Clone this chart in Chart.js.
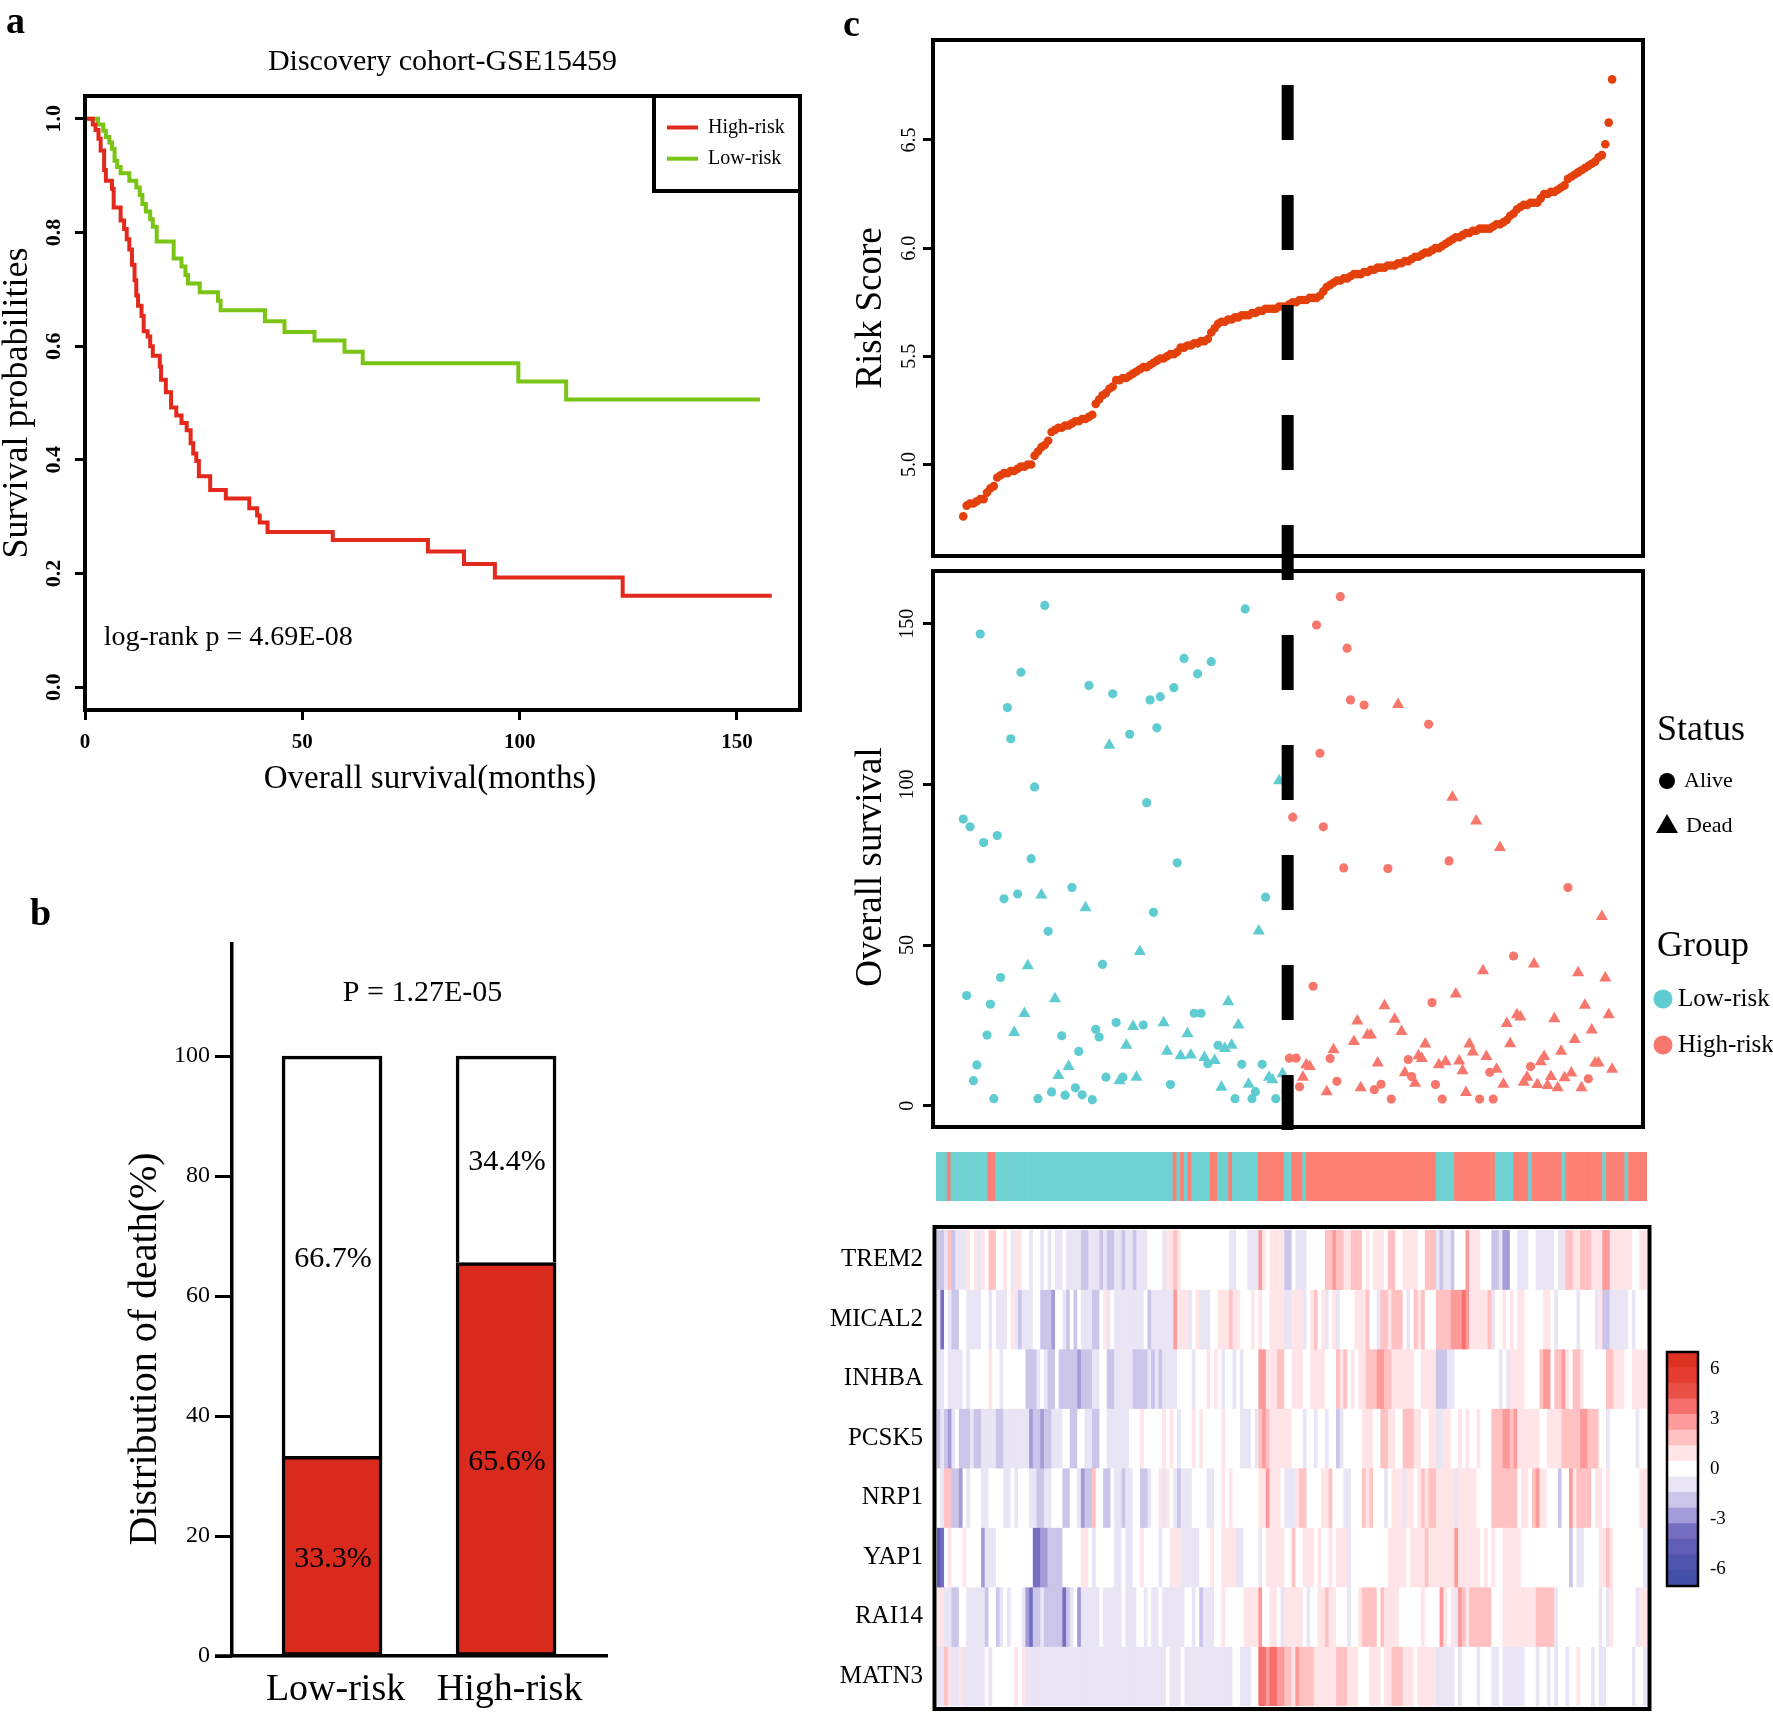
<!DOCTYPE html>
<html>
<head>
<meta charset="utf-8">
<title>Risk model figure</title>
<script src="https://cdn.jsdelivr.net/npm/chart.js@4.4.1/dist/chart.umd.min.js"></script>
<style>
  html, body { margin: 0; padding: 0; background: #fff; }
  #page { position: relative; width: 1773px; height: 1716px; overflow: hidden; background: #fff; }
  #page canvas { position: absolute; left: 0; top: 0; }
</style>
</head>
<body>
<div id="page"></div>
<script>
const W = 1773, H = 1716;
const SERIF = "'Liberation Serif', 'Times New Roman', serif";

/* ---- panel a : Kaplan-Meier ---- */
const kmTitle = 'Discovery cohort-GSE15459';
const kmXTitle = 'Overall survival(months)';
const kmYTitle = 'Survival probabilities';
const kmNames = ['High-risk', 'Low-risk'];
const kmColors = ['#E3291B', '#79C415'];
const logRankText = 'log-rank p = 4.69E-08';
const highTime = [0, 1.8, 2.4, 3.1, 3.6, 4.4, 4.8, 6.2, 6.6, 8.2, 9.0, 9.6, 10.2, 10.8, 11.4, 11.8, 12.2, 13.0, 13.5, 14.4,
  15.0, 15.6, 17.2, 17.5, 18.6, 19.8, 21.0, 22.2, 23.4, 24.3, 24.9, 25.6, 26.2, 28.8, 32.4, 37.8, 39.6, 40.2, 42.0, 57.0,
  78.9, 87.2, 94.3, 123.7, 158.0];
const highSurv = [1.0, 0.99, 0.98, 0.965, 0.944, 0.91, 0.891, 0.877, 0.844, 0.821, 0.806, 0.788, 0.77, 0.743, 0.716, 0.689, 0.671, 0.653, 0.626, 0.617,
  0.6, 0.583, 0.564, 0.541, 0.519, 0.492, 0.478, 0.465, 0.452, 0.429, 0.411, 0.398, 0.371, 0.347, 0.332, 0.315, 0.302, 0.29, 0.273, 0.259,
  0.239, 0.217, 0.193, 0.161, 0.161];
const lowTime = [0, 3.0, 4.2, 4.8, 5.6, 6.2, 6.8, 7.4, 8.2, 10.2, 11.8, 12.6, 13.2, 14.0, 15.0, 15.6, 16.5, 20.4, 22.2, 23.1,
  23.7, 26.4, 30.6, 31.2, 41.4, 45.9, 52.8, 59.7, 63.9, 99.7, 110.7, 155.3];
const lowSurv = [1.0, 0.99, 0.979, 0.968, 0.958, 0.947, 0.926, 0.915, 0.904, 0.891, 0.879, 0.866, 0.85, 0.837, 0.823, 0.81, 0.784, 0.754, 0.74, 0.725,
  0.71, 0.695, 0.68, 0.663, 0.644, 0.625, 0.61, 0.59, 0.57, 0.538, 0.506, 0.506];

/* ---- panel b : death distribution ---- */
const barGroups = ['Low-risk', 'High-risk'];
const deadPct = [33.3, 65.6];
const alivePct = [66.7, 34.4];
const barPText = 'P = 1.27E-05';
const barYTitle = 'Distribution of death(%)';

/* ---- panel c : risk score, survival status, heatmap ---- */
const riskScore = [
  4.76, 4.81, 4.82, 4.82, 4.83, 4.84, 4.84, 4.87, 4.89, 4.90,
  4.94, 4.95, 4.96, 4.96, 4.97, 4.97, 4.98, 4.99, 4.99, 5.00,
  5.00, 5.04, 5.06, 5.08, 5.09, 5.11, 5.15, 5.16, 5.17, 5.17,
  5.18, 5.18, 5.19, 5.20, 5.20, 5.21, 5.21, 5.22, 5.23, 5.28,
  5.30, 5.32, 5.33, 5.35, 5.36, 5.39, 5.39, 5.40, 5.40, 5.41,
  5.42, 5.43, 5.44, 5.45, 5.45, 5.46, 5.47, 5.48, 5.49, 5.49,
  5.50, 5.51, 5.51, 5.52, 5.54, 5.54, 5.55, 5.55, 5.56, 5.56,
  5.57, 5.57, 5.58, 5.61, 5.63, 5.65, 5.66, 5.66, 5.67, 5.67,
  5.68, 5.68, 5.69, 5.69, 5.69, 5.70, 5.70, 5.71, 5.71, 5.72,
  5.72, 5.72, 5.72, 5.73, 5.73, 5.73, 5.74, 5.75, 5.75, 5.76,
  5.76, 5.76, 5.77, 5.77, 5.77, 5.78, 5.80, 5.82, 5.83, 5.84,
  5.85, 5.85, 5.86, 5.86, 5.87, 5.88, 5.88, 5.88, 5.89, 5.89,
  5.90, 5.90, 5.91, 5.91, 5.91, 5.92, 5.92, 5.92, 5.93, 5.93,
  5.94, 5.94, 5.95, 5.96, 5.96, 5.97, 5.98, 5.98, 5.99, 6.00,
  6.00, 6.01, 6.02, 6.03, 6.04, 6.05, 6.05, 6.06, 6.07, 6.07,
  6.08, 6.08, 6.09, 6.09, 6.09, 6.09, 6.10, 6.11, 6.11, 6.12,
  6.13, 6.15, 6.16, 6.18, 6.19, 6.20, 6.20, 6.21, 6.21, 6.21,
  6.23, 6.25, 6.25, 6.26, 6.26, 6.27, 6.28, 6.29, 6.32, 6.33,
  6.34, 6.35, 6.36, 6.37, 6.38, 6.39, 6.40, 6.42, 6.43, 6.48,
  6.58, 6.78];
const survMonths = [
  89.2, 34.3, 86.8, 7.8, 12.7, 146.8, 81.9, 22.0, 31.6, 2.2,
  84.1, 39.9, 64.4, 123.9, 114.2, 22.8, 65.9, 134.9, 28.7, 43.6,
  76.9, 99.2, 2.2, 65.6, 155.7, 54.3, 4.3, 33.3, 9.4, 21.8,
  3.3, 12.2, 67.9, 5.6, 16.9, 3.4, 61.6, 130.8, 1.9, 23.8,
  21.4, 44.0, 8.9, 112.2, 128.2, 25.9, 7.8, 8.9, 18.8, 115.6,
  24.7, 8.9, 48.0, 25.1, 94.3, 126.3, 60.2, 117.6, 127.3, 25.8,
  17.0, 6.6, 130.1, 75.6, 15.6, 139.2, 22.4, 15.8, 28.8, 134.4,
  28.8, 15.0, 13.1, 138.2, 14.1, 18.8, 5.8, 17.8, 32.4, 18.8,
  2.2, 25.1, 12.9, 154.6, 6.7, 2.2, 4.4, 54.4, 12.9, 64.9,
  8.9, 8.1, 2.2, 101.1, 10.0, 4.1,
  14.8, 89.8, 14.8, 5.9, 8.9, 12.8, 12.2, 37.2, 149.6, 109.7,
  86.8, 4.4, 14.7, 17.4, 7.6, 158.4, 74.0, 142.4, 126.3, 20.0,
  26.4, 5.6, 124.7, 22.0, 22.0, 5.0, 13.3, 6.7, 31.1, 73.8,
  2.1, 26.9, 124.9, 23.1, 10.3, 14.4, 9.1, 7.0, 15.6, 14.7,
  19.2, 118.7, 32.1, 6.6, 12.8, 2.1, 13.7, 76.2, 96.0, 34.8,
  13.9, 10.9, 4.1, 19.2, 16.7, 88.6, 2.1, 42.0, 15.3, 10.4,
  2.1, 11.4, 80.4, 6.7, 25.6, 19.3, 46.6, 28.3, 27.6, 7.3,
  8.9, 12.2, 44.1, 6.6, 13.7, 15.3, 6.3, 9.1, 27.1, 5.6,
  17.0, 8.7, 67.9, 10.2, 20.6, 41.4, 5.6, 31.3, 8.4, 23.6,
  13.3, 13.3, 58.9, 39.8, 28.3, 11.4];
// A = alive, D = dead, one letter per patient in risk order
const survStatus = (
  'AAAAAAAAAA AAAAADAADD AAADAAADDA ADAAAADAAA AAADAADADA DDDAAAAAAD DAAADADDAA ADAADADDDD ADAADAADAA DDADDA' +
  'AAAADDDAAA ADADAAAAAD DDADDADADA ADDDDAADDD DAAADADADD DDDDDDADDA ADDDDDADDD DADDDDDDDD DDADDDDDAD DDDDDD'
).replace(/ /g, '');
const cutoffRank = 96.5;
const riskYTitle = 'Risk Score';
const survYTitle = 'Overall survival';
const statusNames = ['Alive', 'Dead'];
const groupNames = ['Low-risk', 'High-risk'];
const groupColors = ['#5FCCD1', '#F8776D'];

// heatmap column groups, L = low-risk, H = high-risk
const stripGroups = (
  'LLLHLLLLLL LLLLHHLLLL LLLLLLLLLL LLLLLLLLLL LLLLLLLL' +
  'LLLLLLLLLL LLLLLLHLHL HLLLLLHHLL LHLLLLLLLH HHHHHHLL' +
  'HHHLHHHHHH HHHHHHHHHH HHHHHHHHHH HHHHHHHHHL LLLLHHHH' +
  'HHHHHHHLLL LLHHHHLHHH HHHHHLHHHH HHHHHHLHHH HHLHHHHH'
).replace(/ /g, '');
const stripColors = { L: '#6FD1D1', H: '#FC8073' };

const genes = ['TREM2', 'MICAL2', 'INHBA', 'PCSK5', 'NRP1', 'YAP1', 'RAI14', 'MATN3'];
// a..e = -1..-5, '.' = 0, 1..5 = +1..+5 (colour-key bins)
const heatCodes = [
  'bba2baaa1. 1a1.22..1. a11..a..a. a.aa.aaaab baaababb  aabaabaaa. ...a1121.. .......... .aa...aaa3 1.1111bb  .aaa.....2 232211222. 1.111.22.. 1111..222a baab...3  111...bbac c..aaa..aa aaa.aa2211 2221113311 1111..11',
  'ad.abb..aa aa..a.aaa. 1abaaa..bb bc..ab.b.a aabb.1a.  aaaaaaaa.b aaaaaa3111 a.1aaa..11 1211...1.1 ..1111aa  111a.12.1a .1a....111 2..a221222 .a.212...2 22233343  111112a..1 .1.11..... 11.a.....a ....a1bbaa aaa.a...',
  'aa.aaaa.a. ....1..a.. ....bbba.a bb.bbbbbcb bbaa..bb  aaaaabbbba babaaaa... .a...1.1.a ..a.a....3 311122..  111..1111. ..212.1.11 2223322111 111..1111b bbaa....  ........a. a1111....2 33.2231.22 1......221 11..1111',
  'babca.bbba bbaaaabbaa aaaaacbbcb baaa..bb.. aabb..aa  aaaa...1.. ...1.1.a.. .1.1.....1 ....aaa.a2 32111111  ...a..a..a ..ba.....1 11..2211.. 22211..11a a11..1.1  ..1...2223 323111111. .111122222 33222..a.. .....a..',
  '.a22bbc.a. ..aa....aa .a...aabba a...bb..ac bb2..bb.  aabaa..bba ..1a1.abaa a....aa..1 .1.......1 13111.aa  a122....11 2...aa...2 12...a.111 a11.121221 1111a111  11....2222 222.11.231 1...b..312 222.11.1.. ......11',
  'ed.1...1.. ..caaa.... ......ddcc bbbb.....1 1.a.....  aa.aa..1.. ..a..111aa aaa...1..1 111aa....a .11111..  2..111.1.. 1.111a.... ......1111 1.11112111 11113111  111.1.1..1 1111...... .......b.a a....1121. .......a',
  '11aabb..aa aaab..ba.a ...acdbbab bbbbdba.ca aaaa.aaa  aa.aaa..a. aa.aaaaaa. .a.baaa..1 .....11113 ..11.a11  111.a..112 11...a..12 222.21111. .....1.... 31.1a321  222222...1 1111111122 222a...... .....a.a1. .....a11',
  'aa21aa1aaa aaa.a..... .1.1aaaaaa aaaaaaaaaa aaaaaaaa  aaaaaaaaaa aaaa.aaa.a aaaaaaaaaa aa..aaa..4 43443322  1322221111 11222111.. .111.11222 111.11111a aaaa.a..  ..a...aa.a aaaaa...a. .a.a..a..1 ...a.aa... ....a..a'
];
const levelOf = { e: -5, d: -4, c: -3, b: -2, a: -1, '.': 0, '1': 1, '2': 2, '3': 3, '4': 4, '5': 5 };
// colour key, from -7 (bottom) to +7 (top)
const binColors = ['#4450A7', '#4F55AD', '#5F5DB5', '#766FC1', '#A39CD8', '#CBC5EA', '#E9E5F5', '#FFFFFF',
  '#FFE5E7', '#FFC1C2', '#FD9A9A', '#F66F6C', '#EB5046', '#E43C2E', '#DD3222'];
const colorTicks = [6, 3, 0, -3, -6];

/* ---------------- helpers ---------------- */
Chart.defaults.font.family = SERIF;
Chart.defaults.color = '#000';
Chart.defaults.animation = false;
Chart.defaults.plugins.legend.display = false;
Chart.defaults.plugins.tooltip.enabled = false;

function addCanvas(h = H) {
  const c = document.createElement('canvas');
  c.width = W; c.height = h;
  c.style.width = W + 'px'; c.style.height = h + 'px';
  document.getElementById('page').appendChild(c);
  return c.getContext('2d');
}
// chart area l,t,r,b in page pixels; yw / xh = fixed axis sizes
function areaPadding(l, t, r, b, yw, xh, h = H) {
  return { left: l - yw, top: t, right: W - r, bottom: h - b - xh };
}
const fixW = w => s => { s.width = w; };
const fixH = h => s => { s.height = h; };
const rTicks = len => ({ display: true, drawOnChartArea: false, drawTicks: true, tickLength: len, tickWidth: 3, tickColor: '#000' });
const noTicks = { display: false, drawTicks: false };

function txt(ctx, s, x, y, size, o = {}) {
  ctx.save();
  ctx.font = (o.weight || 'normal') + ' ' + size + 'px ' + SERIF;
  ctx.fillStyle = o.color || '#000';
  ctx.textAlign = o.align || 'left';
  ctx.textBaseline = o.base || 'middle';
  if (o.rot) { ctx.translate(x, y); ctx.rotate(o.rot); ctx.fillText(s, 0, 0); }
  else ctx.fillText(s, x, y);
  ctx.restore();
}
function boxPlugin(lw, dx = 0, dy = 0) {
  return {
    id: 'box',
    afterDraw(chart) {
      const a = chart.chartArea, ctx = chart.ctx;
      ctx.save();
      ctx.lineWidth = lw; ctx.strokeStyle = '#000';
      ctx.strokeRect(a.left - dx, a.top - dy, a.width + 2 * dx, a.height + 2 * dy);
      ctx.restore();
    }
  };
}
const base = { responsive: false, maintainAspectRatio: false, devicePixelRatio: 1 };

/* ---------------- panel a ---------------- */
const kmDecor = {
  id: 'kmDecor',
  afterDraw(chart) {
    const { ctx, chartArea: a, scales } = chart;
    txt(ctx, 'a', 6, 33, 38, { weight: 'bold', base: 'alphabetic' });
    txt(ctx, kmTitle, (a.left + a.right) / 2, a.top - 34, 30, { align: 'center' });
    txt(ctx, kmXTitle, a.left + 345, a.bottom + 69, 33, { align: 'center' });
    txt(ctx, logRankText, scales.x.getPixelForValue(4.3), scales.y.getPixelForValue(0.088), 28);
    const lx = a.right - 146, ly = a.top;
    ctx.save();
    ctx.lineWidth = 4; ctx.strokeStyle = '#000';
    ctx.strokeRect(lx, ly, 146, 95);
    kmNames.forEach((n, i) => {
      const y = ly + 31.5 + i * 31.2;
      ctx.strokeStyle = kmColors[i];
      ctx.beginPath(); ctx.moveTo(lx + 13, y); ctx.lineTo(lx + 44, y); ctx.stroke();
      txt(ctx, n, lx + 54, y, 20);
    });
    ctx.restore();
  }
};

new Chart(addCanvas(), {
  type: 'line',
  data: {
    datasets: [
      { label: kmNames[0], data: highTime.map((t, i) => ({ x: t, y: highSurv[i] })), borderColor: kmColors[0] },
      { label: kmNames[1], data: lowTime.map((t, i) => ({ x: t, y: lowSurv[i] })), borderColor: kmColors[1] }
    ].map(d => Object.assign(d, { borderWidth: 4, pointRadius: 0, stepped: true, fill: false }))
  },
  options: Object.assign({}, base, {
    layout: { padding: areaPadding(85, 96, 800, 710, 84, 89) },
    scales: {
      x: {
        type: 'linear', min: 0, max: 164.5, afterFit: fixH(89),
        ticks: { stepSize: 50, includeBounds: false, padding: 10, maxRotation: 0, font: { size: 21, weight: 'bold' } },
        grid: rTicks(10), border: { display: false }
      },
      y: {
        min: -0.04, max: 1.04, afterFit: fixW(84),
        ticks: { stepSize: 0.2, includeBounds: false, minRotation: 90, maxRotation: 90, crossAlign: 'center', padding: 7,
          font: { size: 22, weight: 'bold' }, callback: v => v.toFixed(1) },
        grid: rTicks(10), border: { display: false },
        title: { display: true, text: kmYTitle, font: { size: 36, lineHeight: 0.9 }, padding: 0 }
      }
    }
  }),
  plugins: [boxPlugin(4), kmDecor]
});

/* ---------------- panel b ---------------- */
const barDecor = {
  id: 'barDecor',
  afterDatasetsDraw(chart) {
    const { ctx, scales, chartArea: a } = chart;
    [deadPct, alivePct].forEach((vals, d) => {
      chart.getDatasetMeta(d).data.forEach((el, i) => {
        const p = el.getCenterPoint();
        txt(ctx, vals[i].toFixed(1) + '%', p.x + 1, p.y + 3, 30, { align: 'center' });
      });
    });
    // x axis line runs on under the y tick marks, as in R
    ctx.save();
    ctx.strokeStyle = '#000'; ctx.lineWidth = 3.5;
    ctx.beginPath(); ctx.moveTo(a.left - 17, a.bottom); ctx.lineTo(a.left, a.bottom); ctx.stroke();
    ctx.restore();
    txt(ctx, barPText, scales.x.getPixelForValue(1.52), scales.y.getPixelForValue(110.5), 30, { align: 'center' });
    txt(ctx, barYTitle, 145, 1349, 40, { align: 'center', rot: -Math.PI / 2 });
    txt(ctx, 'b', 30, 925, 38, { weight: 'bold', base: 'alphabetic' });
  }
};

new Chart(addCanvas(), {
  type: 'bar',
  data: {
    datasets: [
      { label: 'Dead', data: barGroups.map((g, i) => ({ x: i + 1, y: deadPct[i] })), backgroundColor: '#DA2A1D', borderSkipped: false },
      { label: 'Alive', data: barGroups.map((g, i) => ({ x: i + 1, y: alivePct[i] })), backgroundColor: '#FFFFFF', borderSkipped: 'start' }
    ].map(d => Object.assign(d, { borderColor: '#000', borderWidth: 3.5, barThickness: 100 }))
  },
  options: Object.assign({}, base, {
    layout: { padding: areaPadding(232, 944, 607, 1656, 107, 60) },
    scales: {
      x: {
        type: 'linear', stacked: true, offset: false, min: 0.425, max: 2.58, afterFit: fixH(60),
        afterBuildTicks: s => { s.ticks = barGroups.map((g, i) => ({ value: i + 1.02 })); },
        ticks: { callback: (v, i) => barGroups[i], font: { size: 38 }, padding: 3, maxRotation: 0, autoSkip: false },
        grid: { display: false }, border: { display: true, width: 3.5, color: '#000' }
      },
      y: {
        stacked: true, min: 0, max: 118.7, afterFit: fixW(107),
        ticks: { stepSize: 20, includeBounds: false, padding: 5, font: { size: 24 } },
        grid: rTicks(17), border: { display: true, width: 3.5, color: '#000' }
      }
    }
  }),
  plugins: [barDecor]
});

/* ---------------- panel c : risk score ---------------- */
const rankScale = { type: 'linear', min: -7.9, max: 201.1, display: false };
const yTitlePlugin = (text, y) => ({
  id: 'yTitle',
  afterDraw(chart) { txt(chart.ctx, text, 871, y, 37, { align: 'center', rot: -Math.PI / 2 }); }
});

new Chart(addCanvas(), {
  type: 'scatter',
  data: {
    datasets: [{
      data: riskScore.map((v, i) => ({ x: i + 1, y: v })),
      pointRadius: 4.3, pointBackgroundColor: '#E4400B', pointBorderWidth: 0, showLine: false
    }]
  },
  options: Object.assign({}, base, {
    layout: { padding: areaPadding(933, 40, 1643, 556, 80.5, 0) },
    scales: {
      x: rankScale,
      y: {
        min: 4.577, max: 6.962, afterFit: fixW(80.5),
        ticks: { stepSize: 0.5, includeBounds: false, minRotation: 90, maxRotation: 90, crossAlign: 'center', padding: 1,
          font: { size: 20 }, callback: v => v.toFixed(1) },
        grid: rTicks(10), border: { display: false }
      }
    }
  }),
  plugins: [boxPlugin(4), yTitlePlugin(riskYTitle, 308)]
});

/* ---------------- panel c : group strip ---------------- */
const stripChars = Array.from(stripGroups);
new Chart(addCanvas(), {
  type: 'bar',
  data: {
    labels: stripChars.map((g, i) => i + 1),
    datasets: [{
      data: stripChars.map(() => [0, 1]),
      backgroundColor: stripChars.map(g => stripColors[g]),
      barPercentage: 1, categoryPercentage: 1, borderWidth: 0
    }]
  },
  options: Object.assign({}, base, {
    layout: { padding: areaPadding(936, 1152, 1647, 1201, 0, 0) },
    scales: { x: { display: false }, y: { display: false, min: 0, max: 1 } }
  })
});

/* ---------------- panel c : heatmap ---------------- */
const nCols = stripChars.length;
const heatLevels = heatCodes.map(s => Array.from(s.replace(/ /g, '').padEnd(nCols, '.').slice(0, nCols), ch => levelOf[ch] ?? 0));
const HEAT_H = 1800;   // taller canvas so the label padding does not shrink the plot

new Chart(addCanvas(HEAT_H), {
  type: 'bar',
  data: {
    labels: stripChars.map((g, i) => i + 1),
    datasets: genes.map((g, gi) => ({
      label: g,
      data: heatLevels[gi].map(() => [gi, gi + 1]),
      backgroundColor: heatLevels[gi].map(lv => binColors[lv + 7]),
      grouped: false, barPercentage: 1, categoryPercentage: 1, borderWidth: 0
    }))
  },
  options: Object.assign({}, base, {
    layout: { padding: areaPadding(937, 1230, 1647, 1706, 150, 0, HEAT_H) },
    scales: {
      x: { display: false },
      y: {
        min: 0, max: genes.length, reverse: true, afterFit: fixW(150),
        afterBuildTicks: s => { s.ticks = genes.map((g, i) => ({ value: i + 0.5 })); },
        ticks: { callback: (v, i) => genes[i], font: { size: 25 }, padding: 14, autoSkip: false },
        grid: noTicks, border: { display: false }
      }
    }
  }),
  plugins: [boxPlugin(4, 2.5, 3)]
});

/* ---------------- panel c : colour key ---------------- */
const binStep = 14 / binColors.length;
new Chart(addCanvas(), {
  type: 'bar',
  data: {
    labels: ['key'],
    datasets: binColors.map((col, k) => ({
      data: [[-7 + k * binStep, -7 + (k + 1) * binStep]],
      backgroundColor: col, grouped: false, barPercentage: 1, categoryPercentage: 1, borderWidth: 0
    }))
  },
  options: Object.assign({}, base, {
    layout: { padding: { left: 1667, top: 1352, right: W - 1698 - 44, bottom: H - 1586 } },
    scales: {
      x: { display: false },
      y: {
        position: 'right', min: -7, max: 7, afterFit: fixW(44),
        afterBuildTicks: s => { s.ticks = colorTicks.map(v => ({ value: v })); },
        ticks: { font: { size: 19 }, padding: 12 },
        grid: noTicks, border: { display: false }
      }
    }
  }),
  plugins: [boxPlugin(2.5)]
});

/* ---------------- panel c : survival status ---------------- */
const survDecor = {
  id: 'survDecor',
  afterDraw(chart) {
    const { ctx, chartArea: a, scales } = chart;
    // cut-off between the two risk groups, runs through both upper panels
    const x = scales.x.getPixelForValue(cutoffRank);
    ctx.save();
    ctx.strokeStyle = '#000'; ctx.lineWidth = 12; ctx.setLineDash([55, 55]);
    ctx.beginPath(); ctx.moveTo(x, 85); ctx.lineTo(x, a.bottom + 3); ctx.stroke();
    ctx.restore();

    const lx = a.right + 14;
    txt(ctx, 'Status', lx, 731, 36);
    ctx.save();
    ctx.fillStyle = '#000';
    ctx.beginPath(); ctx.arc(lx + 10, 781, 8, 0, Math.PI * 2); ctx.fill();
    ctx.beginPath(); ctx.moveTo(lx + 10, 814); ctx.lineTo(lx - 1, 833); ctx.lineTo(lx + 21, 833); ctx.closePath(); ctx.fill();
    ctx.restore();
    txt(ctx, statusNames[0], lx + 27, 781, 22);
    txt(ctx, statusNames[1], lx + 29, 826, 22);

    txt(ctx, 'Group', lx, 947, 36);
    groupNames.forEach((n, i) => {
      const y = 999 + i * 46;
      ctx.save();
      ctx.fillStyle = groupColors[i];
      ctx.beginPath(); ctx.arc(lx + 6, y, 9.5, 0, Math.PI * 2); ctx.fill();
      ctx.restore();
      txt(ctx, n, lx + 21, y, 25);
    });
    txt(ctx, 'c', 843, 36, 38, { weight: 'bold', base: 'alphabetic' });
  }
};

new Chart(addCanvas(), {
  type: 'scatter',
  data: {
    datasets: [{
      data: survMonths.map((v, i) => ({ x: i + 1, y: v })),
      pointStyle: survMonths.map((v, i) => survStatus[i] === 'D' ? 'triangle' : 'circle'),
      pointRadius: survMonths.map((v, i) => survStatus[i] === 'D' ? 7 : 4.6),
      pointBackgroundColor: survMonths.map((v, i) => groupColors[i + 1 < cutoffRank ? 0 : 1]),
      pointBorderWidth: 0, showLine: false
    }]
  },
  options: Object.assign({}, base, {
    layout: { padding: areaPadding(933, 571, 1643, 1127, 80.5, 0) },
    scales: {
      x: rankScale,
      y: {
        min: -6.6, max: 166.4, afterFit: fixW(80.5),
        ticks: { stepSize: 50, includeBounds: false, minRotation: 90, maxRotation: 90, crossAlign: 'center', padding: 0,
          font: { size: 20 } },
        grid: rTicks(10), border: { display: false }
      }
    }
  }),
  plugins: [boxPlugin(4), yTitlePlugin(survYTitle, 867), survDecor]
});
</script>
</body>
</html>
